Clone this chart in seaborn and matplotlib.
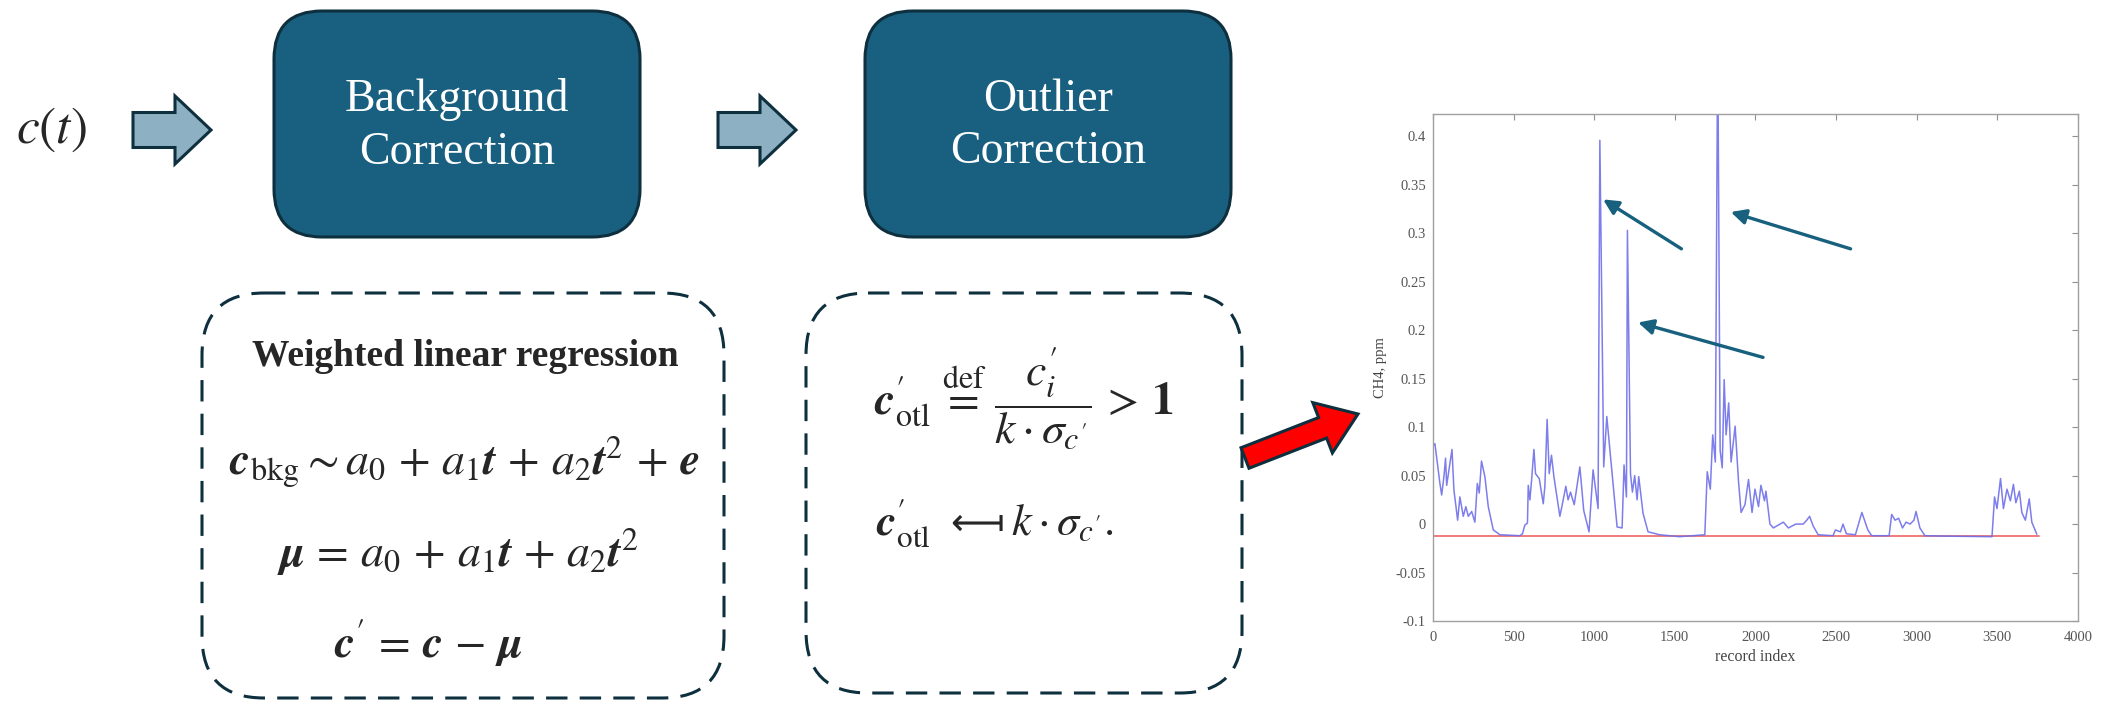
import matplotlib
matplotlib.use("Agg")
import matplotlib.pyplot as plt
from matplotlib.patches import FancyBboxPatch, FancyArrow
import pandas as pd
import seaborn as sns

# CH4 trace (record index vs ppm)
record_idx = [
    0, 12, 43, 54, 68, 78, 85, 99, 118, 130, 153, 167, 188, 204, 219, 240,
    260, 275, 287, 301, 322, 343, 374, 415, 539, 555, 570, 586, 591, 601,
    611, 626, 636, 659, 684, 694, 708, 721, 735, 750, 787, 803, 824, 838,
    853, 876, 911, 935, 968, 993, 1024, 1035, 1059, 1078, 1107, 1142, 1173,
    1185, 1200, 1206, 1225, 1237, 1251, 1266, 1276, 1303, 1334, 1406, 1530,
    1686, 1701, 1720, 1735, 1751, 1766, 1781, 1794, 1806, 1818, 1834, 1849,
    1874, 1895, 1911, 1935, 1957, 1979, 1997, 2019, 2034, 2056, 2065, 2090,
    2111, 2142, 2173, 2204, 2250, 2296, 2318, 2336, 2358, 2389, 2481, 2496,
    2527, 2543, 2564, 2620, 2660, 2697, 2721, 2829, 2845, 2866, 2888, 2912,
    2934, 2959, 2983, 2996, 3020, 3051, 3205, 3467, 3483, 3498, 3520, 3538,
    3560, 3581, 3600, 3615, 3637, 3652, 3674, 3698, 3714, 3745,
]
ch4_ppm = [
    0.080, 0.083, 0.042, 0.030, 0.049, 0.068, 0.040, 0.056, 0.077, 0.035,
    0.004, 0.028, 0.008, 0.018, 0.008, 0.013, 0.002, 0.042, 0.032, 0.065,
    0.049, 0.018, -0.006, -0.011, -0.012, -0.010, -0.001, 0.001, 0.040,
    0.025, 0.044, 0.077, 0.052, 0.047, 0.021, 0.039, 0.108, 0.052, 0.071,
    0.049, 0.008, 0.021, 0.039, 0.025, 0.033, 0.020, 0.059, 0.014, -0.008,
    0.056, 0.016, 0.396, 0.059, 0.111, 0.059, -0.003, -0.004, 0.061, 0.028,
    0.303, 0.052, 0.033, 0.050, 0.025, 0.049, 0.011, -0.008, -0.011, -0.013,
    -0.011, 0.054, 0.036, 0.092, 0.064, 0.500, 0.076, 0.058, 0.149, 0.092,
    0.125, 0.064, 0.101, 0.044, 0.012, 0.020, 0.046, 0.012, 0.036, 0.018,
    0.040, 0.024, 0.034, 0.000, -0.004, -0.001, 0.002, -0.004, 0.000, 0.000,
    0.004, 0.008, -0.002, -0.011, -0.012, -0.006, -0.008, 0.000, -0.010,
    -0.011, 0.012, -0.006, -0.012, -0.012, 0.010, 0.004, 0.006, -0.004,
    0.002, 0.000, 0.004, 0.013, -0.004, -0.012, -0.0125, -0.013, 0.028,
    0.016, 0.047, 0.016, 0.036, 0.024, 0.041, 0.022, 0.034, 0.012, 0.004,
    0.026, 0.002, -0.0105,
]
baseline_idx = [0, 3760]
baseline_ppm = [-0.0125, -0.0125]

# outlier pointers drawn on the panel
ptr_tail_x = [1541, 2590, 2047]
ptr_tail_y = [0.284, 0.284, 0.172]
ptr_head_x = [1055, 1847, 1272]
ptr_head_y = [0.335, 0.322, 0.208]

x_ticks = [0, 500, 1000, 1500, 2000, 2500, 3000, 3500, 4000]
y_ticks = [-0.1, -0.05, 0, 0.05, 0.1, 0.15, 0.2, 0.25, 0.3, 0.35, 0.4]
y_tick_labels = ["-0.1", "-0.05", "0", "0.05", "0.1", "0.15", "0.2",
                 "0.25", "0.3", "0.35", "0.4"]

step_labels = ["Background\nCorrection", "Outlier\nCorrection"]

TEAL = "#185f80"
EDGE = "#0e2f3e"
ARROW_FILL = "#8db0c2"

sns.set_style("white")
plt.rcParams["mathtext.fontset"] = "stix"
plt.rcParams["font.family"] = ["Liberation Serif", "DejaVu Serif"]

fig = plt.figure(figsize=(21.07, 7.04), dpi=100)

# ---- diagram layer, pixel coordinates ----
bg = fig.add_axes([0, 0, 1, 1])
bg.set_xlim(0, 2107)
bg.set_ylim(704, 0)
bg.axis("off")

bg.text(51, 130, r"$c(t)$", fontsize=37, ha="center", va="center")

for x0 in (133, 718):
    bg.add_patch(FancyArrow(x0, 130, 78, 0, width=35, head_width=68,
                            head_length=36, length_includes_head=True,
                            fc=ARROW_FILL, ec=EDGE, lw=2.2))

for x0, label in zip((274, 865), step_labels):
    bg.add_patch(FancyBboxPatch((x0, 11), 366, 226,
                                boxstyle="round,pad=0,rounding_size=48",
                                fc=TEAL, ec=EDGE, lw=2.2))
    bg.text(x0 + 183, 126, label, color="white", fontsize=33,
            ha="center", va="center", linespacing=1.3)

for x0, w, h in ((202, 522, 405), (806, 436, 400)):
    bg.add_patch(FancyBboxPatch((x0, 293), w, h,
                                boxstyle="round,pad=0,rounding_size=62",
                                fc="none", ec=EDGE, lw=2.2,
                                ls=(0, (7, 4))))

bg.text(465, 356, "Weighted linear regression", fontsize=27,
        fontweight="bold", ha="center", va="center")
bg.text(464, 462,
        r"$\mathbfit{c}_{\mathrm{bkg}}{\sim}a_0\,+\,a_1\mathbfit{t}\,+\,a_2\mathbfit{t}^2\,+\,\mathbfit{e}$",
        fontsize=33, ha="center", va="center")
bg.text(458, 552, r"$\mathbfit{\mu}\,=\,a_0\,+\,a_1\mathbfit{t}\,+\,a_2\mathbfit{t}^2$",
        fontsize=33, ha="center", va="center")
bg.text(428, 643, r"$\mathbfit{c}^{\prime}\,=\,\mathbfit{c}\,-\,\mathbfit{\mu}$",
        fontsize=33, ha="center", va="center")

bg.text(874, 398,
        r"$\mathbfit{c}^{\prime}_{\mathrm{otl}}\;\overset{\mathrm{def}}{=}\;\dfrac{c^{\prime}_{i}}{k\cdot\sigma_{c^{\prime}}}\,>\,\mathbf{1}$",
        fontsize=33, ha="left", va="center")
bg.text(876, 535, r"$\mathbfit{c}^{\prime}_{\mathrm{otl}}$",
        fontsize=32, ha="left", va="baseline")
bg.text(977, 535, "\u27fb", fontsize=27, family="DejaVu Sans",
        ha="center", va="baseline")
bg.text(1011, 535, r"$k\cdot\sigma_{c^{\prime}}.$",
        fontsize=32, ha="left", va="baseline")

bg.add_patch(FancyArrow(1245, 458, 113, -44, width=22, head_width=54,
                        head_length=38, length_includes_head=True,
                        fc="#ff0000", ec=EDGE, lw=2.2))

# ---- embedded CH4 panel ----
ax = fig.add_axes([0.6801, 0.1179, 0.3061, 0.720])
trace = pd.DataFrame({"record index": record_idx, "CH4, ppm": ch4_ppm})
base = pd.DataFrame({"record index": baseline_idx, "CH4, ppm": baseline_ppm})
sns.lineplot(data=base, x="record index", y="CH4, ppm", ax=ax,
             color="#f07070", lw=1.3, sort=False, estimator=None)
sns.lineplot(data=trace, x="record index", y="CH4, ppm", ax=ax,
             color="#6f6fea", lw=1.1, alpha=0.9, sort=False, estimator=None)

for tx, ty, hx, hy in zip(ptr_tail_x, ptr_tail_y, ptr_head_x, ptr_head_y):
    ax.annotate("", xy=(hx, hy), xytext=(tx, ty),
                arrowprops=dict(arrowstyle="-|>,head_length=0.9,head_width=0.45",
                                color="#17607e", lw=2.4, shrinkA=0, shrinkB=0))

ax.set_xlim(0, 4000)
ax.set_ylim(-0.1, 0.423)
ax.set_xticks(x_ticks)
ax.set_xticklabels([str(t) for t in x_ticks])
ax.set_yticks(y_ticks)
ax.set_yticklabels(y_tick_labels)
ax.tick_params(direction="in", top=True, right=True, length=4, width=0.8,
               color="#909090", labelsize=10.5, labelcolor="#555555", pad=5)
ax.tick_params(axis="x", pad=7)
for s in ax.spines.values():
    s.set_color("#a0a0a0")
    s.set_linewidth(1.0)
ax.set_xlabel("record index", fontsize=11.5, color="#444444", labelpad=4)
ax.set_ylabel("CH4, ppm", fontsize=10.5, color="#444444", labelpad=6)

fig.savefig("out.png", dpi=100)
